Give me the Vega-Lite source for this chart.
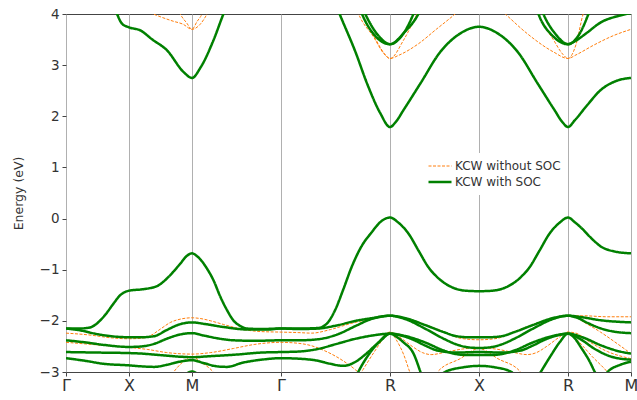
{
"$schema":"https://vega.github.io/schema/vega-lite/v6.json",
"width":565,"height":358,
"autosize":{"type":"none"},
"padding":{"left":66,"top":14,"right":7,"bottom":28},
"config":{"font":"DejaVu Sans","view":{"stroke":"#444","strokeWidth":1},"axis":{"domain":false,"labelColor":"#333","tickColor":"#444","titleColor":"#333","titleFontWeight":"normal"}},
"data":{"values":[
{"s":"KCW without SOC","b":"o2","k":0,"e":-2.24},{"s":"KCW without SOC","b":"o2","k":0.2,"e":-2.28},{"s":"KCW without SOC","b":"o2","k":0.35,"e":-2.33},{"s":"KCW without SOC","b":"o2","k":0.5,"e":-2.35},{"s":"KCW without SOC","b":"o2","k":0.6,"e":-2.34},{"s":"KCW without SOC","b":"o2","k":0.67,"e":-2.29},{"s":"KCW without SOC","b":"o2","k":0.75,"e":-2.16},{"s":"KCW without SOC","b":"o2","k":0.83,"e":-2.03},{"s":"KCW without SOC","b":"o2","k":0.92,"e":-1.96},{"s":"KCW without SOC","b":"o2","k":1.0,"e":-1.94},{"s":"KCW without SOC","b":"o2","k":1.08,"e":-1.96},{"s":"KCW without SOC","b":"o2","k":1.15,"e":-2.0},{"s":"KCW without SOC","b":"o2","k":1.25,"e":-2.07},{"s":"KCW without SOC","b":"o2","k":1.41,"e":-2.17},{"s":"KCW without SOC","b":"o2","k":1.55,"e":-2.21},{"s":"KCW without SOC","b":"o2","k":1.707,"e":-2.22},{"s":"KCW without SOC","b":"o2","k":1.85,"e":-2.23},{"s":"KCW without SOC","b":"o2","k":1.95,"e":-2.24},{"s":"KCW without SOC","b":"o2","k":2.1,"e":-2.17},{"s":"KCW without SOC","b":"o2","k":2.25,"e":-2.06},{"s":"KCW without SOC","b":"o2","k":2.42,"e":-1.96},{"s":"KCW without SOC","b":"o2","k":2.573,"e":-1.9},{"s":"KCW without SOC","b":"o2","k":2.7,"e":-1.95},{"s":"KCW without SOC","b":"o2","k":2.87,"e":-2.09},{"s":"KCW without SOC","b":"o2","k":3.03,"e":-2.24},{"s":"KCW without SOC","b":"o2","k":3.13,"e":-2.34},{"s":"KCW without SOC","b":"o2","k":3.28,"e":-2.37},{"s":"KCW without SOC","b":"o2","k":3.43,"e":-2.34},{"s":"KCW without SOC","b":"o2","k":3.53,"e":-2.24},{"s":"KCW without SOC","b":"o2","k":3.69,"e":-2.09},{"s":"KCW without SOC","b":"o2","k":3.86,"e":-1.95},{"s":"KCW without SOC","b":"o2","k":3.987,"e":-1.9},{"s":"KCW without SOC","b":"o2","k":4.1,"e":-1.9},{"s":"KCW without SOC","b":"o2","k":4.3,"e":-1.92},{"s":"KCW without SOC","b":"o2","k":4.487,"e":-1.92},
{"s":"KCW without SOC","b":"o3","k":0,"e":-2.42},{"s":"KCW without SOC","b":"o3","k":0.25,"e":-2.47},{"s":"KCW without SOC","b":"o3","k":0.5,"e":-2.52},{"s":"KCW without SOC","b":"o3","k":0.65,"e":-2.56},{"s":"KCW without SOC","b":"o3","k":0.8,"e":-2.62},{"s":"KCW without SOC","b":"o3","k":1.0,"e":-2.65},{"s":"KCW without SOC","b":"o3","k":1.15,"e":-2.62},{"s":"KCW without SOC","b":"o3","k":1.33,"e":-2.54},{"s":"KCW without SOC","b":"o3","k":1.5,"e":-2.46},{"s":"KCW without SOC","b":"o3","k":1.707,"e":-2.42},{"s":"KCW without SOC","b":"o3","k":1.85,"e":-2.44},{"s":"KCW without SOC","b":"o3","k":1.94,"e":-2.48},{"s":"KCW without SOC","b":"o3","k":2.05,"e":-2.58},{"s":"KCW without SOC","b":"o3","k":2.2,"e":-2.78},{"s":"KCW without SOC","b":"o3","k":2.3,"e":-2.96},{"s":"KCW without SOC","b":"o3","k":2.4,"e":-3.2},
{"s":"KCW without SOC","b":"o4","k":2.3,"e":-3.2},{"s":"KCW without SOC","b":"o4","k":2.36,"e":-2.95},{"s":"KCW without SOC","b":"o4","k":2.45,"e":-2.6},{"s":"KCW without SOC","b":"o4","k":2.52,"e":-2.35},{"s":"KCW without SOC","b":"o4","k":2.573,"e":-2.22},{"s":"KCW without SOC","b":"o4","k":2.65,"e":-2.32},{"s":"KCW without SOC","b":"o4","k":2.75,"e":-2.5},{"s":"KCW without SOC","b":"o4","k":2.83,"e":-2.62},{"s":"KCW without SOC","b":"o4","k":2.9,"e":-2.66},{"s":"KCW without SOC","b":"o4","k":3.0,"e":-2.62},{"s":"KCW without SOC","b":"o4","k":3.15,"e":-2.55},{"s":"KCW without SOC","b":"o4","k":3.28,"e":-2.52},{"s":"KCW without SOC","b":"o4","k":3.41,"e":-2.55},{"s":"KCW without SOC","b":"o4","k":3.56,"e":-2.62},{"s":"KCW without SOC","b":"o4","k":3.66,"e":-2.66},{"s":"KCW without SOC","b":"o4","k":3.737,"e":-2.62},{"s":"KCW without SOC","b":"o4","k":3.817,"e":-2.5},{"s":"KCW without SOC","b":"o4","k":3.917,"e":-2.32},{"s":"KCW without SOC","b":"o4","k":3.987,"e":-2.22},{"s":"KCW without SOC","b":"o4","k":4.05,"e":-2.24},{"s":"KCW without SOC","b":"o4","k":4.15,"e":-2.4},{"s":"KCW without SOC","b":"o4","k":4.3,"e":-2.6},{"s":"KCW without SOC","b":"o4","k":4.487,"e":-2.74},
{"s":"KCW without SOC","b":"o5","k":3.987,"e":-1.89},{"s":"KCW without SOC","b":"o5","k":4.05,"e":-1.93},{"s":"KCW without SOC","b":"o5","k":4.11,"e":-2.02},{"s":"KCW without SOC","b":"o5","k":4.245,"e":-2.22},{"s":"KCW without SOC","b":"o5","k":4.38,"e":-2.45},{"s":"KCW without SOC","b":"o5","k":4.487,"e":-2.64},
{"s":"KCW without SOC","b":"o6","k":3.72,"e":-3.2},{"s":"KCW without SOC","b":"o6","k":3.77,"e":-3.0},{"s":"KCW without SOC","b":"o6","k":3.87,"e":-2.6},{"s":"KCW without SOC","b":"o6","k":3.94,"e":-2.35},{"s":"KCW without SOC","b":"o6","k":3.987,"e":-2.22},{"s":"KCW without SOC","b":"o6","k":4.03,"e":-2.3},{"s":"KCW without SOC","b":"o6","k":4.07,"e":-2.4},{"s":"KCW without SOC","b":"o6","k":4.18,"e":-2.7},{"s":"KCW without SOC","b":"o6","k":4.3,"e":-3.0},{"s":"KCW without SOC","b":"o6","k":4.35,"e":-3.15},
{"s":"KCW without SOC","b":"o7","k":2.52,"e":-2.3},{"s":"KCW without SOC","b":"o7","k":2.573,"e":-2.22},{"s":"KCW without SOC","b":"o7","k":2.63,"e":-2.4},{"s":"KCW without SOC","b":"o7","k":2.68,"e":-2.65},{"s":"KCW without SOC","b":"o7","k":2.73,"e":-3.0},{"s":"KCW without SOC","b":"o7","k":2.76,"e":-3.2},
{"s":"KCW without SOC","b":"o8","k":2.9,"e":-3.2},{"s":"KCW without SOC","b":"o8","k":2.95,"e":-3.0},{"s":"KCW without SOC","b":"o8","k":3.13,"e":-2.74},{"s":"KCW without SOC","b":"o8","k":3.28,"e":-2.54},{"s":"KCW without SOC","b":"o8","k":3.43,"e":-2.74},{"s":"KCW without SOC","b":"o8","k":3.61,"e":-3.0},{"s":"KCW without SOC","b":"o8","k":3.66,"e":-3.2},
{"s":"KCW without SOC","b":"o9","k":0.8,"e":-3.2},{"s":"KCW without SOC","b":"o9","k":0.855,"e":-3.0},{"s":"KCW without SOC","b":"o9","k":0.93,"e":-2.8},{"s":"KCW without SOC","b":"o9","k":1.0,"e":-2.7},{"s":"KCW without SOC","b":"o9","k":1.08,"e":-2.82},{"s":"KCW without SOC","b":"o9","k":1.17,"e":-3.0},{"s":"KCW without SOC","b":"o9","k":1.23,"e":-3.2},
{"s":"KCW without SOC","b":"oc1","k":0.6,"e":4.1},{"s":"KCW without SOC","b":"oc1","k":0.693,"e":4.0},{"s":"KCW without SOC","b":"oc1","k":0.85,"e":3.86},{"s":"KCW without SOC","b":"oc1","k":0.93,"e":3.8},{"s":"KCW without SOC","b":"oc1","k":1.0,"e":3.7},{"s":"KCW without SOC","b":"oc1","k":1.066,"e":3.8},{"s":"KCW without SOC","b":"oc1","k":1.12,"e":4.0},{"s":"KCW without SOC","b":"oc1","k":1.16,"e":4.2},
{"s":"KCW without SOC","b":"oc2","k":0.87,"e":4.2},{"s":"KCW without SOC","b":"oc2","k":0.907,"e":4.0},{"s":"KCW without SOC","b":"oc2","k":0.96,"e":3.82},{"s":"KCW without SOC","b":"oc2","k":1.0,"e":3.7},{"s":"KCW without SOC","b":"oc2","k":1.04,"e":3.85},{"s":"KCW without SOC","b":"oc2","k":1.08,"e":4.0},{"s":"KCW without SOC","b":"oc2","k":1.11,"e":4.2},
{"s":"KCW without SOC","b":"oc3","k":2.28,"e":4.3},{"s":"KCW without SOC","b":"oc3","k":2.324,"e":4.0},{"s":"KCW without SOC","b":"oc3","k":2.443,"e":3.55},{"s":"KCW without SOC","b":"oc3","k":2.523,"e":3.23},{"s":"KCW without SOC","b":"oc3","k":2.573,"e":3.13},{"s":"KCW without SOC","b":"oc3","k":2.64,"e":3.19},{"s":"KCW without SOC","b":"oc3","k":2.8,"e":3.42},{"s":"KCW without SOC","b":"oc3","k":2.94,"e":3.7},{"s":"KCW without SOC","b":"oc3","k":3.09,"e":4.0},{"s":"KCW without SOC","b":"oc3","k":3.2,"e":4.25},
{"s":"KCW without SOC","b":"oc4","k":2.3,"e":4.25},{"s":"KCW without SOC","b":"oc4","k":2.351,"e":4.0},{"s":"KCW without SOC","b":"oc4","k":2.46,"e":3.5},{"s":"KCW without SOC","b":"oc4","k":2.53,"e":3.22},{"s":"KCW without SOC","b":"oc4","k":2.573,"e":3.13},{"s":"KCW without SOC","b":"oc4","k":2.681,"e":3.49},{"s":"KCW without SOC","b":"oc4","k":2.788,"e":4.0},{"s":"KCW without SOC","b":"oc4","k":2.83,"e":4.2},
{"s":"KCW without SOC","b":"oc6","k":3.38,"e":4.25},{"s":"KCW without SOC","b":"oc6","k":3.489,"e":4.0},{"s":"KCW without SOC","b":"oc6","k":3.661,"e":3.62},{"s":"KCW without SOC","b":"oc6","k":3.87,"e":3.26},{"s":"KCW without SOC","b":"oc6","k":3.987,"e":3.13},{"s":"KCW without SOC","b":"oc6","k":4.05,"e":3.2},{"s":"KCW without SOC","b":"oc6","k":4.19,"e":3.39},{"s":"KCW without SOC","b":"oc6","k":4.35,"e":3.58},{"s":"KCW without SOC","b":"oc6","k":4.487,"e":3.7},
{"s":"KCW without SOC","b":"oc7","k":3.72,"e":4.25},{"s":"KCW without SOC","b":"oc7","k":3.752,"e":4.0},{"s":"KCW without SOC","b":"oc7","k":3.87,"e":3.5},{"s":"KCW without SOC","b":"oc7","k":3.95,"e":3.2},{"s":"KCW without SOC","b":"oc7","k":3.987,"e":3.13},{"s":"KCW without SOC","b":"oc7","k":4.05,"e":3.4},{"s":"KCW without SOC","b":"oc7","k":4.107,"e":4.0},{"s":"KCW without SOC","b":"oc7","k":4.14,"e":4.2},
{"s":"KCW with SOC","b":"g1","k":0,"e":-2.15},{"s":"KCW with SOC","b":"g1","k":0.1,"e":-2.15},{"s":"KCW with SOC","b":"g1","k":0.19,"e":-2.13},{"s":"KCW with SOC","b":"g1","k":0.246,"e":-2.05},{"s":"KCW with SOC","b":"g1","k":0.312,"e":-1.88},{"s":"KCW with SOC","b":"g1","k":0.378,"e":-1.66},{"s":"KCW with SOC","b":"g1","k":0.43,"e":-1.5},{"s":"KCW with SOC","b":"g1","k":0.465,"e":-1.44},{"s":"KCW with SOC","b":"g1","k":0.5,"e":-1.41},{"s":"KCW with SOC","b":"g1","k":0.616,"e":-1.38},{"s":"KCW with SOC","b":"g1","k":0.723,"e":-1.32},{"s":"KCW with SOC","b":"g1","k":0.802,"e":-1.17},{"s":"KCW with SOC","b":"g1","k":0.852,"e":-1.04},{"s":"KCW with SOC","b":"g1","k":0.908,"e":-0.88},{"s":"KCW with SOC","b":"g1","k":0.955,"e":-0.74},{"s":"KCW with SOC","b":"g1","k":1.0,"e":-0.68},{"s":"KCW with SOC","b":"g1","k":1.043,"e":-0.74},{"s":"KCW with SOC","b":"g1","k":1.12,"e":-0.98},{"s":"KCW with SOC","b":"g1","k":1.17,"e":-1.2},{"s":"KCW with SOC","b":"g1","k":1.226,"e":-1.53},{"s":"KCW with SOC","b":"g1","k":1.281,"e":-1.8},{"s":"KCW with SOC","b":"g1","k":1.329,"e":-1.99},{"s":"KCW with SOC","b":"g1","k":1.384,"e":-2.1},{"s":"KCW with SOC","b":"g1","k":1.438,"e":-2.15},{"s":"KCW with SOC","b":"g1","k":1.55,"e":-2.16},{"s":"KCW with SOC","b":"g1","k":1.707,"e":-2.15},{"s":"KCW with SOC","b":"g1","k":1.86,"e":-2.15},{"s":"KCW with SOC","b":"g1","k":2.0,"e":-2.14},{"s":"KCW with SOC","b":"g1","k":2.073,"e":-2.05},{"s":"KCW with SOC","b":"g1","k":2.137,"e":-1.79},{"s":"KCW with SOC","b":"g1","k":2.203,"e":-1.38},{"s":"KCW with SOC","b":"g1","k":2.268,"e":-0.95},{"s":"KCW with SOC","b":"g1","k":2.345,"e":-0.55},{"s":"KCW with SOC","b":"g1","k":2.427,"e":-0.27},{"s":"KCW with SOC","b":"g1","k":2.5,"e":-0.06},{"s":"KCW with SOC","b":"g1","k":2.573,"e":0.02},{"s":"KCW with SOC","b":"g1","k":2.64,"e":-0.08},{"s":"KCW with SOC","b":"g1","k":2.719,"e":-0.29},{"s":"KCW with SOC","b":"g1","k":2.798,"e":-0.62},{"s":"KCW with SOC","b":"g1","k":2.878,"e":-0.95},{"s":"KCW with SOC","b":"g1","k":2.973,"e":-1.2},{"s":"KCW with SOC","b":"g1","k":3.063,"e":-1.34},{"s":"KCW with SOC","b":"g1","k":3.172,"e":-1.41},{"s":"KCW with SOC","b":"g1","k":3.28,"e":-1.42},{"s":"KCW with SOC","b":"g1","k":3.388,"e":-1.41},{"s":"KCW with SOC","b":"g1","k":3.497,"e":-1.34},{"s":"KCW with SOC","b":"g1","k":3.587,"e":-1.2},{"s":"KCW with SOC","b":"g1","k":3.682,"e":-0.95},{"s":"KCW with SOC","b":"g1","k":3.762,"e":-0.62},{"s":"KCW with SOC","b":"g1","k":3.841,"e":-0.29},{"s":"KCW with SOC","b":"g1","k":3.92,"e":-0.08},{"s":"KCW with SOC","b":"g1","k":3.987,"e":0.02},{"s":"KCW with SOC","b":"g1","k":4.04,"e":-0.07},{"s":"KCW with SOC","b":"g1","k":4.1,"e":-0.2},{"s":"KCW with SOC","b":"g1","k":4.17,"e":-0.38},{"s":"KCW with SOC","b":"g1","k":4.25,"e":-0.55},{"s":"KCW with SOC","b":"g1","k":4.35,"e":-0.64},{"s":"KCW with SOC","b":"g1","k":4.487,"e":-0.68},
{"s":"KCW with SOC","b":"g2","k":0,"e":-2.15},{"s":"KCW with SOC","b":"g2","k":0.1,"e":-2.18},{"s":"KCW with SOC","b":"g2","k":0.25,"e":-2.26},{"s":"KCW with SOC","b":"g2","k":0.4,"e":-2.31},{"s":"KCW with SOC","b":"g2","k":0.5,"e":-2.32},{"s":"KCW with SOC","b":"g2","k":0.6,"e":-2.32},{"s":"KCW with SOC","b":"g2","k":0.7,"e":-2.3},{"s":"KCW with SOC","b":"g2","k":0.8,"e":-2.18},{"s":"KCW with SOC","b":"g2","k":0.9,"e":-2.07},{"s":"KCW with SOC","b":"g2","k":1.0,"e":-2.03},{"s":"KCW with SOC","b":"g2","k":1.1,"e":-2.06},{"s":"KCW with SOC","b":"g2","k":1.25,"e":-2.12},{"s":"KCW with SOC","b":"g2","k":1.45,"e":-2.17},{"s":"KCW with SOC","b":"g2","k":1.6,"e":-2.17},{"s":"KCW with SOC","b":"g2","k":1.707,"e":-2.15},{"s":"KCW with SOC","b":"g2","k":1.85,"e":-2.16},{"s":"KCW with SOC","b":"g2","k":2.0,"e":-2.15},{"s":"KCW with SOC","b":"g2","k":2.15,"e":-2.09},{"s":"KCW with SOC","b":"g2","k":2.3,"e":-2.0},{"s":"KCW with SOC","b":"g2","k":2.45,"e":-1.94},{"s":"KCW with SOC","b":"g2","k":2.573,"e":-1.9},{"s":"KCW with SOC","b":"g2","k":2.7,"e":-1.95},{"s":"KCW with SOC","b":"g2","k":2.85,"e":-2.08},{"s":"KCW with SOC","b":"g2","k":3.0,"e":-2.22},{"s":"KCW with SOC","b":"g2","k":3.1,"e":-2.3},{"s":"KCW with SOC","b":"g2","k":3.2,"e":-2.32},{"s":"KCW with SOC","b":"g2","k":3.28,"e":-2.32},{"s":"KCW with SOC","b":"g2","k":3.36,"e":-2.32},{"s":"KCW with SOC","b":"g2","k":3.46,"e":-2.3},{"s":"KCW with SOC","b":"g2","k":3.56,"e":-2.22},{"s":"KCW with SOC","b":"g2","k":3.71,"e":-2.08},{"s":"KCW with SOC","b":"g2","k":3.86,"e":-1.95},{"s":"KCW with SOC","b":"g2","k":3.987,"e":-1.9},{"s":"KCW with SOC","b":"g2","k":4.1,"e":-1.93},{"s":"KCW with SOC","b":"g2","k":4.25,"e":-1.99},{"s":"KCW with SOC","b":"g2","k":4.4,"e":-2.02},{"s":"KCW with SOC","b":"g2","k":4.487,"e":-2.03},
{"s":"KCW with SOC","b":"g3","k":0,"e":-2.38},{"s":"KCW with SOC","b":"g3","k":0.15,"e":-2.42},{"s":"KCW with SOC","b":"g3","k":0.3,"e":-2.47},{"s":"KCW with SOC","b":"g3","k":0.5,"e":-2.51},{"s":"KCW with SOC","b":"g3","k":0.6,"e":-2.5},{"s":"KCW with SOC","b":"g3","k":0.7,"e":-2.45},{"s":"KCW with SOC","b":"g3","k":0.8,"e":-2.35},{"s":"KCW with SOC","b":"g3","k":0.9,"e":-2.27},{"s":"KCW with SOC","b":"g3","k":1.0,"e":-2.24},{"s":"KCW with SOC","b":"g3","k":1.1,"e":-2.29},{"s":"KCW with SOC","b":"g3","k":1.2,"e":-2.34},{"s":"KCW with SOC","b":"g3","k":1.33,"e":-2.38},{"s":"KCW with SOC","b":"g3","k":1.5,"e":-2.39},{"s":"KCW with SOC","b":"g3","k":1.707,"e":-2.38},{"s":"KCW with SOC","b":"g3","k":1.85,"e":-2.38},{"s":"KCW with SOC","b":"g3","k":2.0,"e":-2.36},{"s":"KCW with SOC","b":"g3","k":2.15,"e":-2.27},{"s":"KCW with SOC","b":"g3","k":2.3,"e":-2.1},{"s":"KCW with SOC","b":"g3","k":2.417,"e":-1.97},{"s":"KCW with SOC","b":"g3","k":2.573,"e":-1.9},{"s":"KCW with SOC","b":"g3","k":2.7,"e":-1.97},{"s":"KCW with SOC","b":"g3","k":2.85,"e":-2.15},{"s":"KCW with SOC","b":"g3","k":3.0,"e":-2.35},{"s":"KCW with SOC","b":"g3","k":3.1,"e":-2.46},{"s":"KCW with SOC","b":"g3","k":3.2,"e":-2.52},{"s":"KCW with SOC","b":"g3","k":3.28,"e":-2.53},{"s":"KCW with SOC","b":"g3","k":3.36,"e":-2.52},{"s":"KCW with SOC","b":"g3","k":3.46,"e":-2.46},{"s":"KCW with SOC","b":"g3","k":3.56,"e":-2.35},{"s":"KCW with SOC","b":"g3","k":3.71,"e":-2.15},{"s":"KCW with SOC","b":"g3","k":3.86,"e":-1.97},{"s":"KCW with SOC","b":"g3","k":3.987,"e":-1.9},{"s":"KCW with SOC","b":"g3","k":4.05,"e":-1.93},{"s":"KCW with SOC","b":"g3","k":4.15,"e":-2.05},{"s":"KCW with SOC","b":"g3","k":4.25,"e":-2.15},{"s":"KCW with SOC","b":"g3","k":4.35,"e":-2.21},{"s":"KCW with SOC","b":"g3","k":4.487,"e":-2.24},
{"s":"KCW with SOC","b":"g4","k":0,"e":-2.61},{"s":"KCW with SOC","b":"g4","k":0.25,"e":-2.62},{"s":"KCW with SOC","b":"g4","k":0.5,"e":-2.63},{"s":"KCW with SOC","b":"g4","k":0.6,"e":-2.64},{"s":"KCW with SOC","b":"g4","k":0.75,"e":-2.67},{"s":"KCW with SOC","b":"g4","k":0.9,"e":-2.7},{"s":"KCW with SOC","b":"g4","k":1.0,"e":-2.71},{"s":"KCW with SOC","b":"g4","k":1.15,"e":-2.69},{"s":"KCW with SOC","b":"g4","k":1.35,"e":-2.66},{"s":"KCW with SOC","b":"g4","k":1.55,"e":-2.62},{"s":"KCW with SOC","b":"g4","k":1.707,"e":-2.61},{"s":"KCW with SOC","b":"g4","k":1.85,"e":-2.6},{"s":"KCW with SOC","b":"g4","k":2.0,"e":-2.55},{"s":"KCW with SOC","b":"g4","k":2.15,"e":-2.45},{"s":"KCW with SOC","b":"g4","k":2.3,"e":-2.35},{"s":"KCW with SOC","b":"g4","k":2.45,"e":-2.28},{"s":"KCW with SOC","b":"g4","k":2.573,"e":-2.25},{"s":"KCW with SOC","b":"g4","k":2.7,"e":-2.3},{"s":"KCW with SOC","b":"g4","k":2.85,"e":-2.42},{"s":"KCW with SOC","b":"g4","k":3.0,"e":-2.58},{"s":"KCW with SOC","b":"g4","k":3.1,"e":-2.65},{"s":"KCW with SOC","b":"g4","k":3.2,"e":-2.67},{"s":"KCW with SOC","b":"g4","k":3.28,"e":-2.67},{"s":"KCW with SOC","b":"g4","k":3.36,"e":-2.67},{"s":"KCW with SOC","b":"g4","k":3.46,"e":-2.65},{"s":"KCW with SOC","b":"g4","k":3.56,"e":-2.58},{"s":"KCW with SOC","b":"g4","k":3.71,"e":-2.42},{"s":"KCW with SOC","b":"g4","k":3.86,"e":-2.3},{"s":"KCW with SOC","b":"g4","k":3.987,"e":-2.25},{"s":"KCW with SOC","b":"g4","k":4.1,"e":-2.32},{"s":"KCW with SOC","b":"g4","k":4.25,"e":-2.48},{"s":"KCW with SOC","b":"g4","k":4.4,"e":-2.6},{"s":"KCW with SOC","b":"g4","k":4.487,"e":-2.64},
{"s":"KCW with SOC","b":"g5","k":0,"e":-2.73},{"s":"KCW with SOC","b":"g5","k":0.15,"e":-2.78},{"s":"KCW with SOC","b":"g5","k":0.3,"e":-2.84},{"s":"KCW with SOC","b":"g5","k":0.5,"e":-2.87},{"s":"KCW with SOC","b":"g5","k":0.6,"e":-2.89},{"s":"KCW with SOC","b":"g5","k":0.7,"e":-2.9},{"s":"KCW with SOC","b":"g5","k":0.8,"e":-2.86},{"s":"KCW with SOC","b":"g5","k":0.9,"e":-2.8},{"s":"KCW with SOC","b":"g5","k":1.0,"e":-2.77},{"s":"KCW with SOC","b":"g5","k":1.1,"e":-2.83},{"s":"KCW with SOC","b":"g5","k":1.2,"e":-2.89},{"s":"KCW with SOC","b":"g5","k":1.28,"e":-2.9},{"s":"KCW with SOC","b":"g5","k":1.4,"e":-2.82},{"s":"KCW with SOC","b":"g5","k":1.55,"e":-2.76},{"s":"KCW with SOC","b":"g5","k":1.707,"e":-2.73},{"s":"KCW with SOC","b":"g5","k":1.85,"e":-2.74},{"s":"KCW with SOC","b":"g5","k":2.0,"e":-2.78},{"s":"KCW with SOC","b":"g5","k":2.1,"e":-2.84},{"s":"KCW with SOC","b":"g5","k":2.2,"e":-2.88},{"s":"KCW with SOC","b":"g5","k":2.3,"e":-2.8},{"s":"KCW with SOC","b":"g5","k":2.38,"e":-2.65},{"s":"KCW with SOC","b":"g5","k":2.47,"e":-2.45},{"s":"KCW with SOC","b":"g5","k":2.573,"e":-2.25},{"s":"KCW with SOC","b":"g5","k":2.65,"e":-2.28},{"s":"KCW with SOC","b":"g5","k":2.75,"e":-2.36},{"s":"KCW with SOC","b":"g5","k":2.85,"e":-2.48},{"s":"KCW with SOC","b":"g5","k":2.95,"e":-2.58},{"s":"KCW with SOC","b":"g5","k":3.1,"e":-2.62},{"s":"KCW with SOC","b":"g5","k":3.28,"e":-2.61},{"s":"KCW with SOC","b":"g5","k":3.46,"e":-2.62},{"s":"KCW with SOC","b":"g5","k":3.61,"e":-2.58},{"s":"KCW with SOC","b":"g5","k":3.71,"e":-2.48},{"s":"KCW with SOC","b":"g5","k":3.81,"e":-2.36},{"s":"KCW with SOC","b":"g5","k":3.91,"e":-2.28},{"s":"KCW with SOC","b":"g5","k":3.987,"e":-2.25},{"s":"KCW with SOC","b":"g5","k":4.08,"e":-2.35},{"s":"KCW with SOC","b":"g5","k":4.2,"e":-2.55},{"s":"KCW with SOC","b":"g5","k":4.33,"e":-2.7},{"s":"KCW with SOC","b":"g5","k":4.487,"e":-2.76},
{"s":"KCW with SOC","b":"g6","k":2.28,"e":-3.2},{"s":"KCW with SOC","b":"g6","k":2.338,"e":-2.92},{"s":"KCW with SOC","b":"g6","k":2.44,"e":-2.54},{"s":"KCW with SOC","b":"g6","k":2.51,"e":-2.36},{"s":"KCW with SOC","b":"g6","k":2.573,"e":-2.25},{"s":"KCW with SOC","b":"g6","k":2.63,"e":-2.32},{"s":"KCW with SOC","b":"g6","k":2.68,"e":-2.42},{"s":"KCW with SOC","b":"g6","k":2.76,"e":-2.64},{"s":"KCW with SOC","b":"g6","k":2.815,"e":-3.0},{"s":"KCW with SOC","b":"g6","k":2.85,"e":-3.25},
{"s":"KCW with SOC","b":"g7","k":3.72,"e":-3.2},{"s":"KCW with SOC","b":"g7","k":3.77,"e":-3.0},{"s":"KCW with SOC","b":"g7","k":3.85,"e":-2.68},{"s":"KCW with SOC","b":"g7","k":3.92,"e":-2.42},{"s":"KCW with SOC","b":"g7","k":3.987,"e":-2.25},{"s":"KCW with SOC","b":"g7","k":4.04,"e":-2.34},{"s":"KCW with SOC","b":"g7","k":4.09,"e":-2.52},{"s":"KCW with SOC","b":"g7","k":4.16,"e":-2.8},{"s":"KCW with SOC","b":"g7","k":4.2,"e":-3.0},{"s":"KCW with SOC","b":"g7","k":4.25,"e":-3.2},
{"s":"KCW with SOC","b":"g8","k":2.94,"e":-3.15},{"s":"KCW with SOC","b":"g8","k":3.01,"e":-3.0},{"s":"KCW with SOC","b":"g8","k":3.15,"e":-2.91},{"s":"KCW with SOC","b":"g8","k":3.28,"e":-2.88},{"s":"KCW with SOC","b":"g8","k":3.41,"e":-2.91},{"s":"KCW with SOC","b":"g8","k":3.537,"e":-3.0},{"s":"KCW with SOC","b":"g8","k":3.6,"e":-3.15},
{"s":"KCW with SOC","b":"g9","k":4.24,"e":-3.2},{"s":"KCW with SOC","b":"g9","k":4.3,"e":-3.0},{"s":"KCW with SOC","b":"g9","k":4.4,"e":-2.86},{"s":"KCW with SOC","b":"g9","k":4.487,"e":-2.8},
{"s":"KCW with SOC","b":"g10","k":0.92,"e":-3.12},{"s":"KCW with SOC","b":"g10","k":1.0,"e":-2.99},{"s":"KCW with SOC","b":"g10","k":1.08,"e":-3.12},
{"s":"KCW with SOC","b":"c1","k":0,"e":5.6},{"s":"KCW with SOC","b":"c1","k":0.2,"e":5.0},{"s":"KCW with SOC","b":"c1","k":0.35,"e":4.35},{"s":"KCW with SOC","b":"c1","k":0.405,"e":4.0},{"s":"KCW with SOC","b":"c1","k":0.445,"e":3.81},{"s":"KCW with SOC","b":"c1","k":0.5,"e":3.74},{"s":"KCW with SOC","b":"c1","k":0.59,"e":3.68},{"s":"KCW with SOC","b":"c1","k":0.686,"e":3.5},{"s":"KCW with SOC","b":"c1","k":0.802,"e":3.29},{"s":"KCW with SOC","b":"c1","k":0.932,"e":2.87},{"s":"KCW with SOC","b":"c1","k":1.0,"e":2.75},{"s":"KCW with SOC","b":"c1","k":1.07,"e":2.96},{"s":"KCW with SOC","b":"c1","k":1.17,"e":3.48},{"s":"KCW with SOC","b":"c1","k":1.25,"e":4.0},{"s":"KCW with SOC","b":"c1","k":1.35,"e":4.6},{"s":"KCW with SOC","b":"c1","k":1.5,"e":5.3},{"s":"KCW with SOC","b":"c1","k":1.707,"e":5.8},{"s":"KCW with SOC","b":"c1","k":1.9,"e":5.4},{"s":"KCW with SOC","b":"c1","k":2.1,"e":4.45},{"s":"KCW with SOC","b":"c1","k":2.173,"e":4.0},{"s":"KCW with SOC","b":"c1","k":2.3,"e":3.25},{"s":"KCW with SOC","b":"c1","k":2.391,"e":2.64},{"s":"KCW with SOC","b":"c1","k":2.496,"e":2.06},{"s":"KCW with SOC","b":"c1","k":2.573,"e":1.79},{"s":"KCW with SOC","b":"c1","k":2.616,"e":1.88},{"s":"KCW with SOC","b":"c1","k":2.68,"e":2.12},{"s":"KCW with SOC","b":"c1","k":2.814,"e":2.64},{"s":"KCW with SOC","b":"c1","k":2.973,"e":3.26},{"s":"KCW with SOC","b":"c1","k":3.131,"e":3.62},{"s":"KCW with SOC","b":"c1","k":3.28,"e":3.75},{"s":"KCW with SOC","b":"c1","k":3.429,"e":3.62},{"s":"KCW with SOC","b":"c1","k":3.587,"e":3.26},{"s":"KCW with SOC","b":"c1","k":3.746,"e":2.64},{"s":"KCW with SOC","b":"c1","k":3.88,"e":2.12},{"s":"KCW with SOC","b":"c1","k":3.944,"e":1.88},{"s":"KCW with SOC","b":"c1","k":3.987,"e":1.79},{"s":"KCW with SOC","b":"c1","k":4.04,"e":1.92},{"s":"KCW with SOC","b":"c1","k":4.14,"e":2.22},{"s":"KCW with SOC","b":"c1","k":4.245,"e":2.51},{"s":"KCW with SOC","b":"c1","k":4.38,"e":2.7},{"s":"KCW with SOC","b":"c1","k":4.487,"e":2.75},
{"s":"KCW with SOC","b":"c2","k":2.28,"e":4.5},{"s":"KCW with SOC","b":"c2","k":2.351,"e":4.0},{"s":"KCW with SOC","b":"c2","k":2.46,"e":3.56},{"s":"KCW with SOC","b":"c2","k":2.573,"e":3.41},{"s":"KCW with SOC","b":"c2","k":2.68,"e":3.62},{"s":"KCW with SOC","b":"c2","k":2.759,"e":4.0},{"s":"KCW with SOC","b":"c2","k":2.82,"e":4.4},
{"s":"KCW with SOC","b":"c3","k":2.31,"e":4.4},{"s":"KCW with SOC","b":"c3","k":2.377,"e":4.0},{"s":"KCW with SOC","b":"c3","k":2.48,"e":3.58},{"s":"KCW with SOC","b":"c3","k":2.573,"e":3.41},{"s":"KCW with SOC","b":"c3","k":2.69,"e":3.65},{"s":"KCW with SOC","b":"c3","k":2.798,"e":4.0},{"s":"KCW with SOC","b":"c3","k":2.86,"e":4.35},
{"s":"KCW with SOC","b":"c4","k":3.7,"e":4.4},{"s":"KCW with SOC","b":"c4","k":3.752,"e":4.0},{"s":"KCW with SOC","b":"c4","k":3.87,"e":3.56},{"s":"KCW with SOC","b":"c4","k":3.987,"e":3.41},{"s":"KCW with SOC","b":"c4","k":4.08,"e":3.62},{"s":"KCW with SOC","b":"c4","k":4.149,"e":4.0},{"s":"KCW with SOC","b":"c4","k":4.2,"e":4.35},
{"s":"KCW with SOC","b":"c5","k":3.73,"e":4.4},{"s":"KCW with SOC","b":"c5","k":3.791,"e":4.0},{"s":"KCW with SOC","b":"c5","k":3.89,"e":3.6},{"s":"KCW with SOC","b":"c5","k":3.987,"e":3.41},{"s":"KCW with SOC","b":"c5","k":4.05,"e":3.48},{"s":"KCW with SOC","b":"c5","k":4.13,"e":3.62},{"s":"KCW with SOC","b":"c5","k":4.25,"e":3.84},{"s":"KCW with SOC","b":"c5","k":4.4,"e":3.97},{"s":"KCW with SOC","b":"c5","k":4.487,"e":4.02}
]},
"encoding":{
"x":{"field":"k","type":"quantitative","scale":{"domain":[0,4.487],"nice":false,"zero":false},
"axis":{"values":[0,0.5,1,1.707,2.573,3.28,3.987,4.487],"labelExpr":"datum.value < 0.25 ? 'Γ' : datum.value < 0.75 ? 'X' : datum.value < 1.3 ? 'M' : datum.value < 2 ? 'Γ' : datum.value < 3 ? 'R' : datum.value < 3.5 ? 'X' : datum.value < 4.2 ? 'R' : 'M'","title":null,"grid":true,"gridColor":"#b0b0b0","gridWidth":1,"labelFontSize":16,"labelFlush":false,"labelOverlap":false,"tickSize":4,"labelPadding":1}},
"y":{"field":"e","type":"quantitative","scale":{"domain":[-3,4],"nice":false,"zero":false},
"axis":{"values":[-3,-2,-1,0,1,2,3,4],"title":"Energy (eV)","titleFontSize":12.5,"titlePadding":14,"grid":false,"labelFontSize":13.5,"tickSize":4,"labelPadding":3}},
"color":{"field":"s","type":"nominal","scale":{"domain":["KCW without SOC","KCW with SOC"],"range":["#ff7f0e","#008000"]},"legend":{"title":null,"orient":"none","legendX":356,"legendY":139,"fillColor":"white","padding":5,"labelFontSize":12,"labelColor":"#333","symbolType":"stroke","symbolSize":529,"clipHeight":16,"rowPadding":0,"labelOffset":2}},
"strokeDash":{"field":"s","type":"nominal","scale":{"domain":["KCW without SOC","KCW with SOC"],"range":[[3,1.5],[1,0]]},"legend":{"title":null,"orient":"none","legendX":356,"legendY":139,"fillColor":"white","padding":5,"labelFontSize":12,"labelColor":"#333","symbolType":"stroke","symbolSize":529,"clipHeight":16,"rowPadding":0,"labelOffset":2}},
"strokeWidth":{"field":"s","type":"nominal","scale":{"domain":["KCW without SOC","KCW with SOC"],"range":[1,2.5]},"legend":{"title":null,"orient":"none","legendX":356,"legendY":139,"fillColor":"white","padding":5,"labelFontSize":12,"labelColor":"#333","symbolType":"stroke","symbolSize":529,"clipHeight":16,"rowPadding":0,"labelOffset":2}},
"detail":{"field":"b","type":"nominal"}
},
"layer":[
{"transform":[{"filter":"datum.s == 'KCW without SOC'"}],"mark":{"type":"line","clip":true,"interpolate":"monotone"}},
{"transform":[{"filter":"datum.s == 'KCW with SOC'"}],"mark":{"type":"line","clip":true,"interpolate":"monotone"}}
]
}
